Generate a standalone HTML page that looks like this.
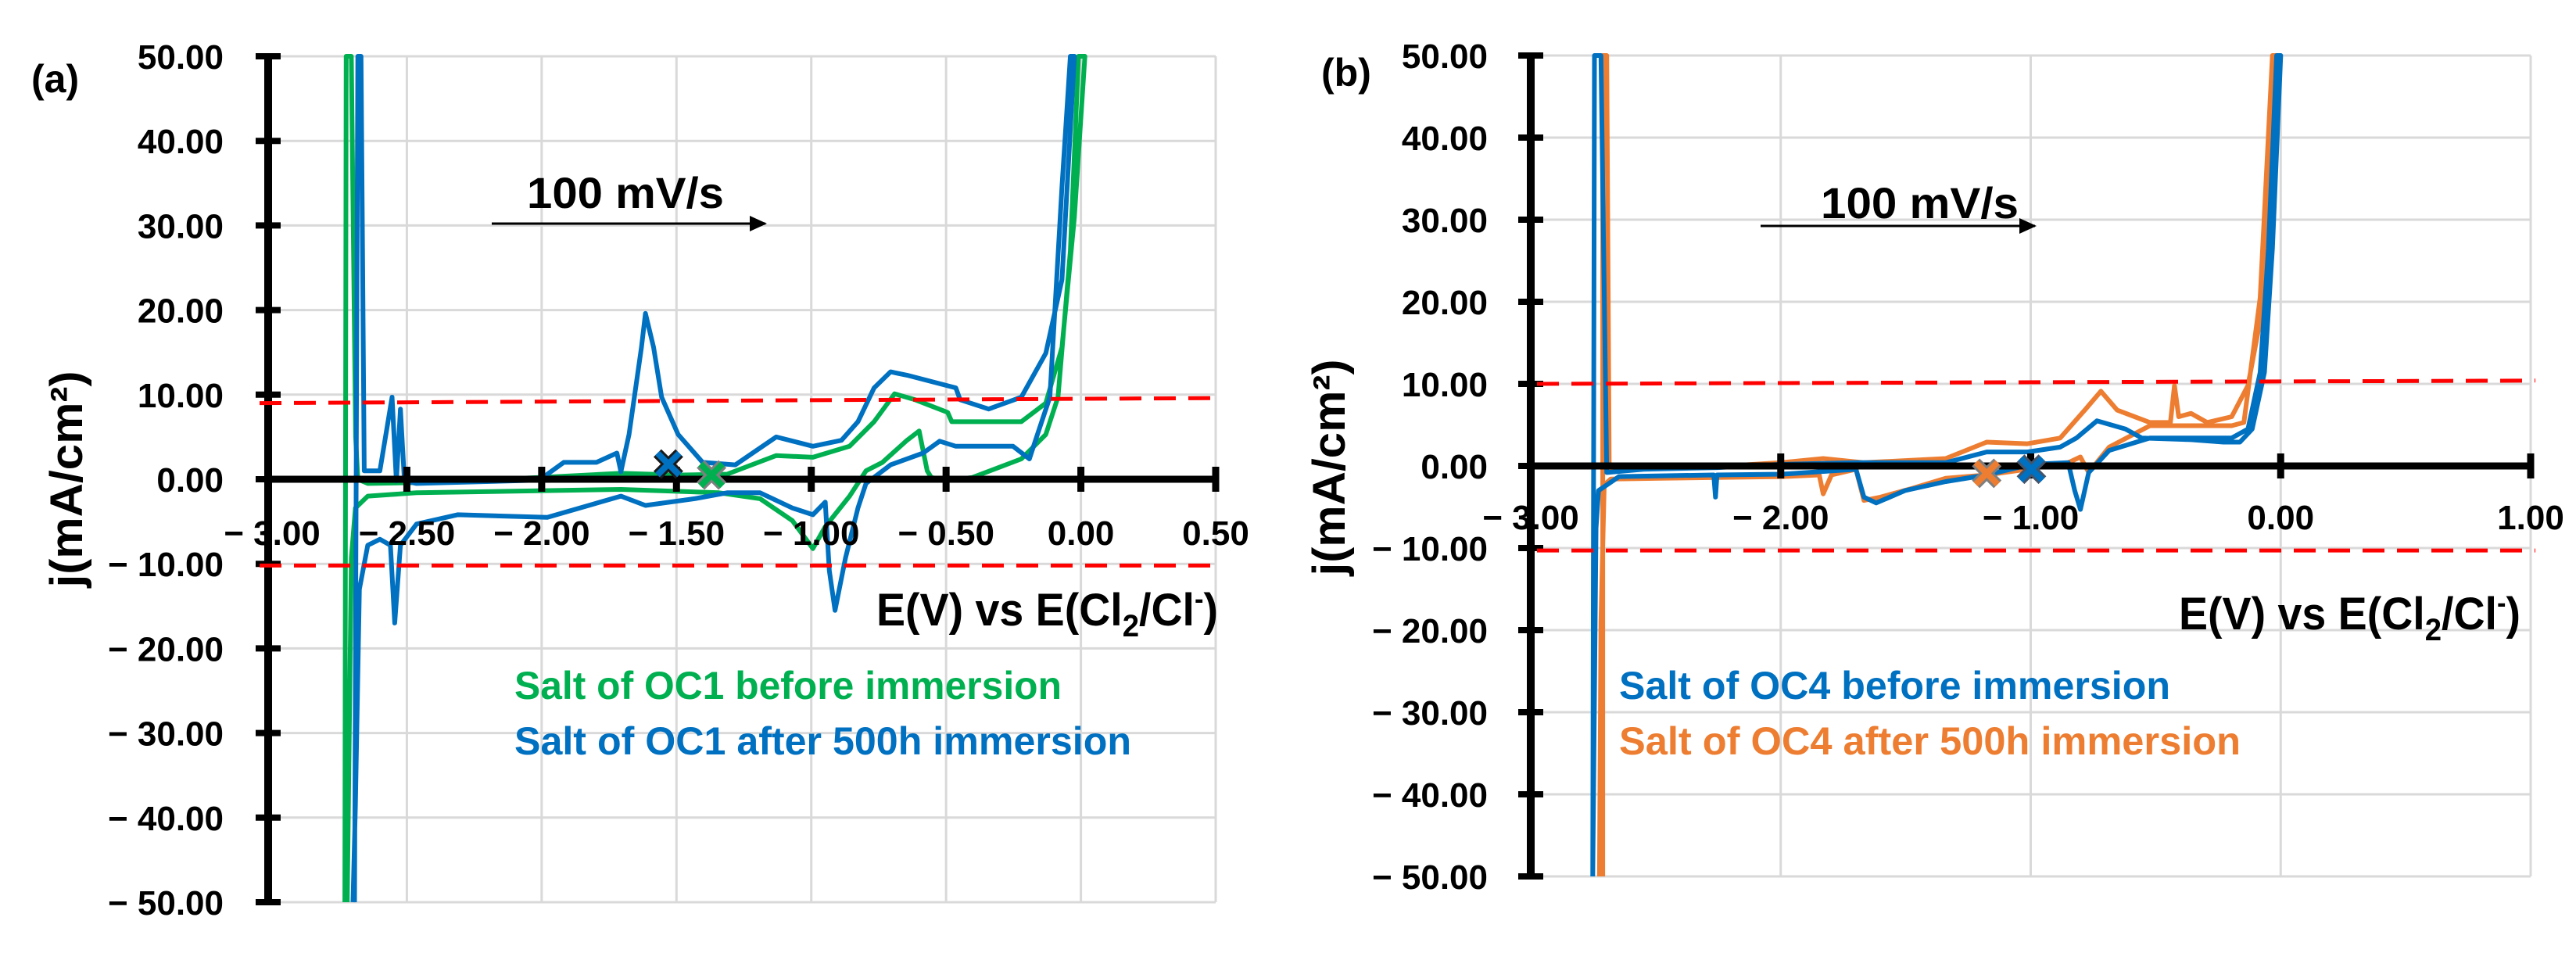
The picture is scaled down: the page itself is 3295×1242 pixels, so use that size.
<!DOCTYPE html>
<html><head><meta charset="utf-8"><style>
html,body{margin:0;padding:0;background:#fff;}
svg{display:block;}
text{font-family:"Liberation Sans",sans-serif;font-weight:bold;}
</style></head><body>
<svg id="fig" width="3295" height="1242" viewBox="0 0 3295 1242" xmlns="http://www.w3.org/2000/svg">
<defs>
<clipPath id="clipA"><rect x="343" y="60" width="1220" height="1100"/></clipPath>
<clipPath id="clipB"><rect x="1958" y="60" width="1285" height="1066"/></clipPath>
<marker id="arrowhead" markerWidth="22" markerHeight="20" refX="20" refY="10" orient="auto" markerUnits="userSpaceOnUse"><path d="M0,0 L22,10 L0,20 z" fill="#000"/></marker>
</defs>
<g id="panelA">
<g id="gridA"></g>
<g id="seriesA" clip-path="url(#clipA)"></g>
<g id="axesA"></g>
<text x="40" y="118" font-size="50">(a)</text>
<text transform="translate(105,613) rotate(-90)" text-anchor="middle" font-size="58" textLength="277" lengthAdjust="spacingAndGlyphs">j(mA/cm²)</text>
<text x="1121" y="800" font-size="58" textLength="437" lengthAdjust="spacingAndGlyphs">E(V) vs E(Cl<tspan dy="14" font-size="40">2</tspan><tspan dy="-14">/Cl</tspan><tspan dy="-22" font-size="36">-</tspan><tspan dy="22">)</tspan></text>
<text x="674" y="266" font-size="56" textLength="252" lengthAdjust="spacingAndGlyphs">100 mV/s</text>
<line x1="629" y1="286" x2="979" y2="286" stroke="#000" stroke-width="3" marker-end="url(#arrowhead)"/>
<text x="658" y="894" font-size="50" fill="#00b050" textLength="700" lengthAdjust="spacingAndGlyphs">Salt of OC1 before immersion</text>
<text x="658" y="965" font-size="50" fill="#0070c0" textLength="789" lengthAdjust="spacingAndGlyphs">Salt of OC1 after 500h immersion</text>
</g>
<g id="panelB">
<g id="gridB"></g>
<g id="seriesB" clip-path="url(#clipB)"></g>
<g id="axesB"></g>
<text x="1690" y="110" font-size="50">(b)</text>
<text transform="translate(1720,598) rotate(-90)" text-anchor="middle" font-size="58" textLength="277" lengthAdjust="spacingAndGlyphs">j(mA/cm²)</text>
<text x="2787" y="805" font-size="58" textLength="437" lengthAdjust="spacingAndGlyphs">E(V) vs E(Cl<tspan dy="14" font-size="40">2</tspan><tspan dy="-14">/Cl</tspan><tspan dy="-22" font-size="36">-</tspan><tspan dy="22">)</tspan></text>
<text x="2329" y="279" font-size="56" textLength="253" lengthAdjust="spacingAndGlyphs">100 mV/s</text>
<line x1="2252" y1="289" x2="2603" y2="289" stroke="#000" stroke-width="3" marker-end="url(#arrowhead)"/>
<text x="2071" y="894" font-size="50" fill="#0070c0" textLength="705" lengthAdjust="spacingAndGlyphs">Salt of OC4 before immersion</text>
<text x="2071" y="965" font-size="50" fill="#ed7d31" textLength="795" lengthAdjust="spacingAndGlyphs">Salt of OC4 after 500h immersion</text>
</g>
</svg>
<script>
// ---- data ----
const yTicks = [50,40,30,20,10,0,-10,-20,-30,-40,-50];
const xTicksA = [-3,-2.5,-2,-1.5,-1,-0.5,0,0.5];
const xTicksB = [-3,-2,-1,0,1];
const limitUpperA = [9.0, 9.6];
const limitLowerA = [-10.2, -10.2];
const limitUpperB = [10.0, 10.4];
const limitLowerB = [-10.3, -10.3];

const greenAE = [-2.73,-2.725,-2.706,-2.69,-2.682,-2.645,-2.464,-2.009,-1.706,-1.494,-1.312,-1.13,-0.994,-0.858,-0.767,-0.691,-0.615,-0.494,-0.479,-0.221,-0.13,-0.07,-0.024,0.015,
 -0.009,-0.039,-0.085,-0.13,-0.221,-0.403,-0.494,-0.555,-0.57,-0.6,-0.645,-0.736,-0.797,-0.858,-0.948,-0.994,-1.07,-1.19,-1.342,-1.706,-2.464,-2.645,-2.691,-2.706,-2.721];
const greenAJ = [-50,50,50,5,0,-0.5,-0.4,0.2,0.7,0.5,0.6,2.8,2.6,3.9,6.8,10.1,9.4,7.9,6.8,6.8,9,15.6,31,50,
 50,27,9.7,5.3,2.4,0.2,-0.1,0.2,1,5.7,4.6,2,1,-2,-5.6,-8.2,-4.9,-2.3,-1.6,-1.2,-1.6,-2,-3.4,-9.3,-50];

const blueAE = [-2.694,-2.682,-2.67,-2.658,-2.645,-2.6,-2.555,-2.539,-2.524,-2.509,-2.464,-2.009,-1.918,-1.797,-1.721,-1.706,-1.676,-1.63,-1.615,-1.585,-1.555,-1.494,-1.403,-1.282,-1.13,-0.994,-0.888,-0.827,-0.767,-0.706,-0.645,-0.464,-0.448,-0.342,-0.221,-0.13,-0.07,-0.024,
 -0.039,-0.07,-0.115,-0.161,-0.191,-0.252,-0.464,-0.524,-0.585,-0.706,-0.797,-0.827,-0.873,-0.912,-0.933,-0.948,-0.994,-1.07,-1.19,-1.312,-1.433,-1.615,-1.706,-1.979,-2.312,-2.464,-2.524,-2.545,-2.561,-2.6,-2.645,-2.676,-2.691,-2.7];
const blueAJ = [-50,50,50,1,1,1,9.7,-0.2,8.3,-0.2,-0.5,-0.1,2,2,3.1,0.9,5.3,15.6,19.6,15.6,9.7,5.3,2,1.7,5,3.9,4.6,6.8,10.8,12.7,12.3,10.8,9.4,8.3,9.7,14.9,23.6,50,
 50,34.6,9.7,5.3,2.4,3.9,3.9,4.5,3.1,1.7,-0.5,-3.4,-9.3,-15.5,-10.8,-2.7,-4.2,-3.4,-1.6,-1.6,-2.3,-3.1,-2,-4.5,-4.2,-5.3,-7.8,-17,-7.8,-7.1,-7.8,-13,-38.6,-50];

const blueBE = [-2.752,-2.745,-2.719,-2.696,-2.549,-2.255,-2.0,-1.699,-1.34,-1.176,-1.013,-0.882,-0.817,-0.735,-0.621,-0.556,-0.359,-0.229,-0.163,-0.114,-0.065,-0.033,0.0,
 -0.016,-0.049,-0.082,-0.131,-0.196,-0.523,-0.686,-0.768,-0.801,-0.824,-0.85,-0.997,-1.176,-1.34,-1.503,-1.618,-1.667,-1.699,-1.993,-2.255,-2.261,-2.268,-2.647,-2.729,-2.739,-2.752];
const blueBJ = [-50,50,50,-0.8,-0.4,-0.2,0.2,0.4,0.4,1.7,1.7,2.3,3.4,5.5,4.5,3.4,3.2,2.9,2.9,4.5,11.4,26.5,50,
 50,26.5,11.4,4.5,3.4,3.4,1.9,-0.8,-5.3,-3,0.4,0.2,-1.1,-1.9,-3,-4.5,-3.8,-0.4,-1,-1.1,-3.8,-1.1,-1.3,-3,-7.6,-50];

const orangeBE = [-2.712,-2.712,-2.696,-2.686,-2.32,-2.0,-1.83,-1.667,-1.34,-1.176,-1.013,-0.882,-0.784,-0.719,-0.654,-0.523,-0.441,-0.425,-0.408,-0.359,-0.294,-0.196,-0.131,-0.065,-0.016,
 -0.033,-0.082,-0.147,-0.196,-0.359,-0.523,-0.686,-0.768,-0.801,-0.85,-1.013,-1.176,-1.34,-1.471,-1.601,-1.667,-1.699,-1.797,-1.83,-1.846,-1.993,-2.484,-2.68,-2.706,-2.719,-2.725];
const orangeBJ = [-50,50,50,-0.4,-0.2,0.4,0.9,0.4,0.9,2.9,2.7,3.4,6.8,9.1,6.8,5.3,5.3,9.8,6,6.4,5.3,6,9.8,20.5,50,
 50,20.5,5.3,4.9,4.9,4.9,2.3,-0.8,1.1,0.4,-0.4,-1.1,-1.5,-2.7,-3.8,-4.2,-0.4,-1.1,-3.4,-1.1,-1.3,-1.5,-1.6,-2.3,-19,-50];

const markerE_A = [-1.53,-1.37];
const markerJ_A = [1.8,0.5];
const markerE_B = [-1.176,-0.997];
const markerJ_B = [-0.9,-0.4];

// ---- axes ----
const NS = "http://www.w3.org/2000/svg";
function mk(tag, attrs, parent){const e=document.createElementNS(NS,tag);for(const k in attrs)e.setAttribute(k,attrs[k]);parent.appendChild(e);return e;}
const A = {x0:-3,x1:0.5,px0:348,px1:1555,jTop:50,jBot:-50,py0:72,py1:1154};
const B = {x0:-3,x1:1,px0:1958,px1:3237,jTop:50,jBot:-50,py0:71,py1:1121};
function sx(P,e){return P.px0+(e-P.x0)/(P.x1-P.x0)*(P.px1-P.px0);}
function sy(P,j){return P.py0+(P.jTop-j)/(P.jTop-P.jBot)*(P.py1-P.py0);}
function fmt(v,dec){const s=Math.abs(v).toFixed(dec);return v<0?"\u2212 "+s:s;}

function drawPanel(P,xTicks,gridId,axesId,axisX,ylabRight,xlabY,id){
  const g=document.getElementById(gridId), ax=document.getElementById(axesId);
  yTicks.forEach(t=>{
    const y=sy(P,t);
    const gl=mk("line",{x1:axisX,x2:P.px1,y1:y,y2:y,stroke:"#d9d9d9","stroke-width":3},g);
    
    
    const tk=mk("line",{x1:axisX-16,x2:axisX+16,y1:y,y2:y,stroke:"#000","stroke-width":8},ax);
    
    
    const lb=mk("text",{x:ylabRight,y:y+16,"text-anchor":"end","font-size":44},ax);
    lb.textContent=fmt(t,2);
    
    
  });
  xTicks.forEach(t=>{
    const x=sx(P,t);
    if(t>P.x0){
      const gl=mk("line",{x1:x,x2:x,y1:P.py0,y2:P.py1,stroke:"#d9d9d9","stroke-width":3},g);
      
      
      const tk=mk("line",{x1:x,x2:x,y1:sy(P,0)-16,y2:sy(P,0)+16,stroke:"#000","stroke-width":9},ax);
      
      
    }
    const lb=mk("text",{x:x,y:xlabY,"text-anchor":"middle","font-size":44},ax);
    lb.textContent=fmt(t,2);
    
    
  });
  const yl=mk("line",{x1:axisX,x2:axisX,y1:P.py0-4,y2:P.py1+4,stroke:"#000","stroke-width":10},ax);
  
  
  const xl=mk("line",{x1:axisX,x2:P.px1,y1:sy(P,0),y2:sy(P,0),stroke:"#000","stroke-width":9},ax);
  
  
}
function series(P,E,J,color,parent,name){
  const pts=E.map((e,i)=>sx(P,e).toFixed(1)+","+sy(P,J[i]).toFixed(1)).join(" ");
  const pl=mk("polyline",{points:pts,fill:"none",stroke:color,"stroke-width":6,"stroke-linejoin":"round"},parent);
  
  
}
function limit(P,vals,x0px,x1px,parent,name){
  const l=mk("line",{x1:x0px,x2:x1px,y1:sy(P,vals[0]),y2:sy(P,vals[1]),stroke:"#ff0000","stroke-width":5,"stroke-dasharray":"28,16"},parent);
  
  
}
function xmark(P,e,j,fill,stroke,parent,name){
  const x=sx(P,e),y=sy(P,j),s=14;
  const d=`M${x-s},${y-s}L${x+s},${y+s}M${x+s},${y-s}L${x-s},${y+s}`;
  const o=mk("path",{d:d,stroke:stroke,"stroke-width":14,fill:"none"},parent);
  
  
  const m=mk("path",{d:d,stroke:fill,"stroke-width":8,fill:"none"},parent);
  
  
}

drawPanel(A,xTicksA,"gridA","axesA",343,286,697,"a");
drawPanel(B,xTicksB,"gridB","axesB",1958,1903,677,"b");

const sA=document.getElementById("seriesA"), sB=document.getElementById("seriesB");
const axA=document.getElementById("axesA"), axB=document.getElementById("axesB");
series(A,greenAE,greenAJ,"#00b050",sA,"series-oc1-before");
series(A,blueAE,blueAJ,"#0070c0",sA,"series-oc1-after");
series(B,orangeBE,orangeBJ,"#ed7d31",sB,"series-oc4-after");
series(B,blueBE,blueBJ,"#0070c0",sB,"series-oc4-before");
limit(A,limitUpperA,332,1563,axA,"upper-limit-line-a");
limit(A,limitLowerA,332,1563,axA,"lower-limit-line-a");
limit(B,limitUpperB,1966,3243,axB,"upper-limit-line-b");
limit(B,limitLowerB,1966,3243,axB,"lower-limit-line-b");
xmark(A,markerE_A[0],markerJ_A[0],"#0070c0","#1a1a1a",axA,"ocp-marker-oc1-after");
xmark(A,markerE_A[1],markerJ_A[1],"#00b050","#7f7f7f",axA,"ocp-marker-oc1-before");
xmark(B,markerE_B[0],markerJ_B[0],"#ed7d31","#7f7f7f",axB,"ocp-marker-oc4-after");
xmark(B,markerE_B[1],markerJ_B[1],"#0070c0","#44546a",axB,"ocp-marker-oc4-before");
</script>
</body></html>
